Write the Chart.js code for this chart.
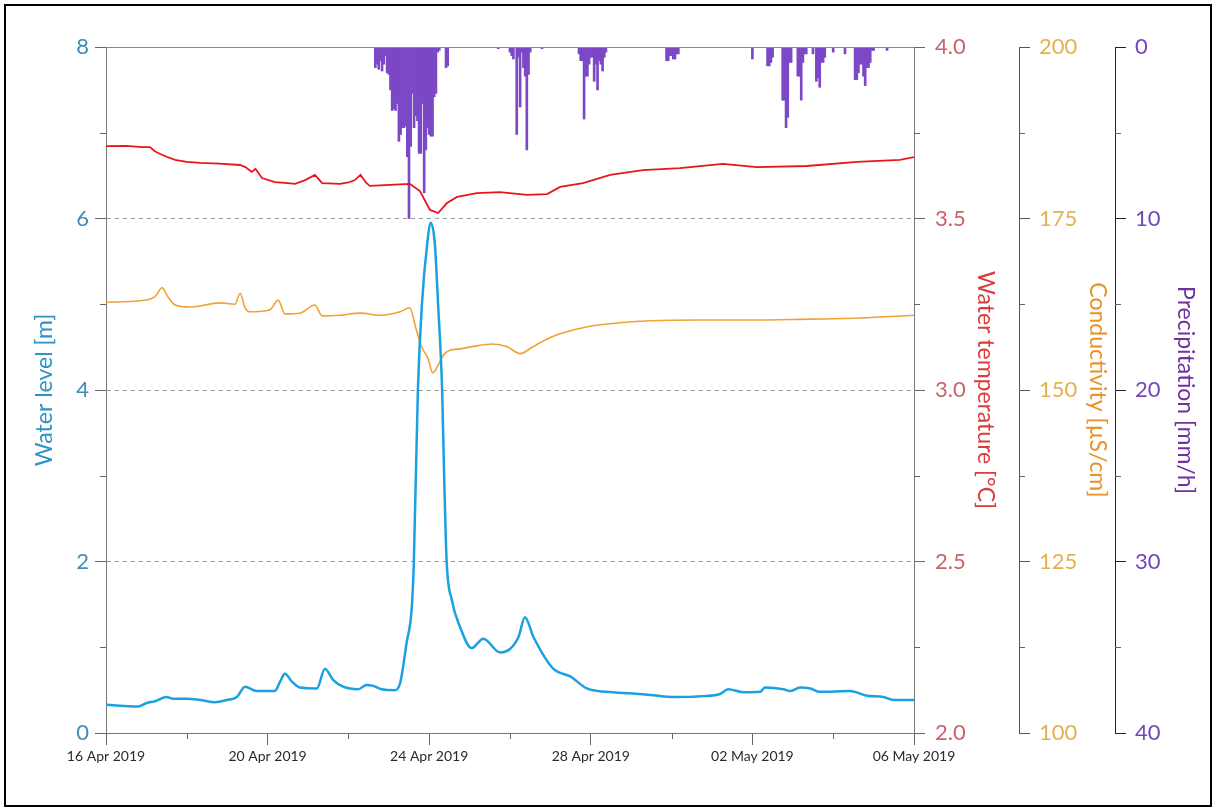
<!DOCTYPE html>
<html>
<head>
<meta charset="utf-8">
<script src="https://cdn.jsdelivr.net/npm/chart.js@4.4.1/dist/chart.umd.min.js"></script>
<style>
html,body{margin:0;padding:0;background:#fff;}
</style>
</head>
<body>
<canvas id="graph" width="1216" height="811"></canvas>
<script>
// temps en jours depuis le 16 Apr 2019 00:00
const levelDays = [0, 0.79, 1.01, 1.21, 1.5, 1.66, 2.0, 2.33, 2.7, 2.99, 3.24, 3.44, 3.73, 4.18, 4.31, 4.43, 4.6, 4.8, 5.22, 5.42, 5.62, 5.87, 6.24, 6.45, 6.61, 6.82, 7.15, 7.28, 7.44, 7.57, 7.62, 7.72, 7.82, 7.95, 8.04, 8.14, 8.22, 8.32, 8.37, 8.43, 8.56, 8.76, 9.05, 9.34, 9.75, 10.0, 10.21, 10.37, 10.58, 11.07, 11.49, 11.9, 12.39, 13.05, 13.55, 14.04, 14.78, 15.2, 15.4, 15.78, 16.19, 16.31, 16.77, 16.93, 17.18, 17.43, 17.67, 18.42, 18.83, 19.24, 19.49, 20.0];
const levelValues = [0.33, 0.31, 0.35, 0.37, 0.42, 0.40, 0.40, 0.385, 0.36, 0.385, 0.42, 0.54, 0.49, 0.49, 0.60, 0.69, 0.60, 0.53, 0.52, 0.75, 0.62, 0.54, 0.51, 0.56, 0.55, 0.51, 0.50, 0.58, 1.05, 1.47, 2.0, 4.0, 5.0, 5.7, 5.95, 5.7, 5.0, 4.0, 3.0, 2.02, 1.55, 1.24, 0.99, 1.10, 0.94, 0.98, 1.12, 1.35, 1.12, 0.75, 0.66, 0.52, 0.48, 0.46, 0.44, 0.42, 0.43, 0.455, 0.51, 0.475, 0.48, 0.53, 0.51, 0.49, 0.53, 0.52, 0.48, 0.49, 0.435, 0.42, 0.385, 0.385];

const tempDays = [0, 0.5, 0.9, 1.09, 1.2, 1.34, 1.5, 1.71, 2.0, 2.33, 2.8, 3.32, 3.45, 3.61, 3.7, 3.86, 4.18, 4.5, 4.68, 4.93, 5.17, 5.35, 5.79, 6.0, 6.16, 6.3, 6.45, 6.53, 7.03, 7.52, 7.77, 8.02, 8.22, 8.44, 8.69, 9.18, 9.75, 10.42, 10.92, 11.24, 11.81, 12.48, 13.29, 14.21, 15.27, 16.11, 17.35, 18.59, 19.65, 20.0];
const tempValues = [3.711, 3.712, 3.708, 3.708, 3.697, 3.688, 3.680, 3.671, 3.665, 3.662, 3.660, 3.656, 3.650, 3.636, 3.645, 3.618, 3.606, 3.603, 3.601, 3.612, 3.627, 3.603, 3.601, 3.605, 3.612, 3.627, 3.603, 3.595, 3.598, 3.601, 3.580, 3.525, 3.516, 3.545, 3.563, 3.574, 3.577, 3.569, 3.571, 3.592, 3.603, 3.627, 3.641, 3.647, 3.659, 3.650, 3.653, 3.665, 3.671, 3.679];

const condDays = [0, 0.84, 1.21, 1.39, 1.53, 1.71, 2.08, 2.82, 3.19, 3.32, 3.44, 3.56, 4.06, 4.26, 4.43, 4.8, 5.17, 5.35, 5.79, 6.29, 6.78, 7.28, 7.52, 7.67, 7.82, 7.97, 8.09, 8.22, 8.34, 8.51, 8.76, 9.13, 9.58, 9.93, 10.25, 10.57, 10.87, 11.24, 11.98, 12.72, 13.47, 14.7, 15.94, 17.18, 18.66, 20.0];
const condValues = [162.8, 163.0, 163.6, 164.9, 163.6, 162.4, 162.1, 162.7, 162.5, 164.1, 162.0, 161.4, 161.7, 163.1, 161.1, 161.2, 162.4, 160.8, 160.9, 161.2, 160.9, 161.4, 162.0, 159.0, 156.2, 154.6, 152.5, 153.6, 155.0, 155.8, 156.0, 156.4, 156.7, 156.3, 155.3, 156.3, 157.3, 158.2, 159.3, 159.8, 160.1, 160.2, 160.2, 160.3, 160.5, 160.9];

// pluie horaire, heures depuis le 16 Apr 2019 00:00
const rainHours = [160, 161, 162, 163, 164, 165, 166, 167, 168, 169, 170, 171, 172, 173, 174, 175, 176, 177, 178, 179, 180, 181, 182, 183, 184, 185, 186, 187, 188, 189, 190, 191, 192, 193, 194, 195, 196, 197, 198, 202, 203,
  233, 240, 241, 242, 244, 245, 246, 247, 248, 249, 250, 251, 252, 259,
  281, 282, 283, 284, 285, 286, 287, 288, 289, 290, 291, 292, 293, 294, 295, 296, 297,
  333, 334, 335, 336, 337, 338, 339, 340,
  384, 393, 394, 395, 396, 402, 403, 404, 405, 406, 407, 411, 412, 413, 414, 415, 416, 420, 422, 423, 424, 425, 426, 427, 432, 439,
  445, 446, 447, 448, 449, 450, 451, 452, 453, 454, 455, 456, 464];
const rainValues = [1.2, 1.0, 1.3, 0.8, 1.4, 1.0, 0.5, 1.5, 1.6, 2.5, 3.7, 3.6, 3.7, 3.3, 5.5, 5.1, 4.7, 4.7, 4.6, 6.4, 10.0, 5.8, 2.7, 4.7, 4.0, 4.3, 6.2, 6.2, 3.3, 8.5, 6.0, 4.7, 5.1, 5.2, 5.2, 2.9, 2.7, 0.3, 0.2, 1.2, 1.1,
  0.1, 0.3, 0.5, 0.7, 5.1, 0.6, 3.5, 0.3, 1.2, 1.7, 6.0, 1.6, 0.3, 0.1,
  0.4, 0.8, 0.8, 4.2, 1.7, 1.7, 1.0, 0.6, 0.6, 2.0, 1.0, 2.5, 0.8, 1.0, 1.4, 0.6, 0.3,
  0.8, 0.8, 0.5, 0.5, 0.7, 0.7, 0.4, 0.4,
  0.7, 1.1, 1.1, 0.9, 0.6, 3.1, 3.1, 4.7, 4.1, 0.9, 0.9, 1.7, 1.7, 3.1, 0.9, 0.4, 0.4, 0.4, 2.0, 1.8, 2.35, 0.9, 0.9, 0.6, 0.3, 0.4,
  1.9, 1.9, 1.5, 1.0, 1.0, 1.7, 2.25, 1.2, 1.2, 0.9, 0.2, 0.2, 0.2];

const dateLabels = ['16 Apr 2019', '20 Apr 2019', '24 Apr 2019', '28 Apr 2019', '02 May 2019', '06 May 2019'];
const xMinor = [2, 6, 10, 14, 18];
const levelMinor = [1, 3, 5, 7];
const tempMinor = [2.25, 2.75, 3.25, 3.75];
const condMinor = [112.5, 137.5, 162.5, 187.5];
const rainMinor = [5, 15, 25, 35];

function pts(xs, ys) { return xs.map((x, i) => ({x: x, y: ys[i]})); }

// cadre noir + trait du haut + petites graduations
const decor = {
  id: 'decor',
  beforeDraw(chart) {
    const ctx = chart.ctx;
    ctx.save();
    ctx.fillStyle = '#fff';
    ctx.fillRect(0, 0, chart.width, chart.height);
    ctx.restore();
  },
  afterDraw(chart) {
    const ctx = chart.ctx;
    const a = chart.chartArea;
    ctx.save();
    ctx.strokeStyle = '#000';
    ctx.lineWidth = 2;
    ctx.strokeRect(5, 5, chart.width - 10, chart.height - 10);
    ctx.strokeStyle = '#888';
    ctx.lineWidth = 1;
    ctx.beginPath();
    ctx.moveTo(a.left, Math.round(a.top) + 0.5);
    ctx.lineTo(a.right, Math.round(a.top) + 0.5);
    ctx.stroke();
    ctx.strokeStyle = '#666';
    const s = chart.scales;
    ctx.beginPath();
    xMinor.forEach(v => {
      const p = Math.round(s.x.getPixelForValue(v)) + 0.5;
      ctx.moveTo(p, s.x.top); ctx.lineTo(p, s.x.top + 6);
    });
    levelMinor.forEach(v => {
      const p = Math.round(s.y.getPixelForValue(v)) + 0.5;
      ctx.moveTo(s.y.right, p); ctx.lineTo(s.y.right - 6, p);
    });
    [[s.yT, tempMinor], [s.yC, condMinor], [s.yP, rainMinor]].forEach(([sc, vals]) => {
      vals.forEach(v => {
        const p = Math.round(sc.getPixelForValue(v)) + 0.5;
        ctx.moveTo(sc.left, p); ctx.lineTo(sc.left + 6, p);
      });
    });
    ctx.stroke();
    ctx.restore();
  }
};

Chart.defaults.font.family = "Lato, 'Open Sans', sans-serif";

const graph = document.getElementById('graph');

var graphe = new Chart(graph, {
  type: 'line',
  data: {
    datasets: [
      {
        label: 'Water level',
        data: pts(levelDays, levelValues),
        yAxisID: 'y',
        borderColor: '#1ba1e2',
        borderWidth: 2.5,
        pointRadius: 0,
        cubicInterpolationMode: 'monotone'
      },
      {
        label: 'Water temperature',
        data: pts(tempDays, tempValues),
        yAxisID: 'yT',
        borderColor: '#e8161c',
        borderWidth: 1.8,
        pointRadius: 0
      },
      {
        label: 'Conductivity',
        data: pts(condDays, condValues),
        yAxisID: 'yC',
        borderColor: '#f0a235',
        borderWidth: 1.6,
        pointRadius: 0,
        cubicInterpolationMode: 'monotone'
      },
      {
        type: 'bar',
        label: 'Precipitation',
        data: pts(rainHours.map(h => h / 24), rainValues),
        yAxisID: 'yP',
        backgroundColor: '#7b48c6',
        borderWidth: 0,
        barThickness: 2
      }
    ]
  },
  options: {
    responsive: false,
    animation: false,
    layout: {
      padding: {left: 10, right: 11, top: 47, bottom: 28}
    },
    plugins: {
      legend: {display: false},
      tooltip: {enabled: false}
    },
    scales: {
      x: {
        type: 'linear',
        min: 0,
        max: 20,
        offset: false,
        grid: {offset: false, drawOnChartArea: false, tickLength: 12, color: '#666'},
        border: {color: '#777'},
        ticks: {
          stepSize: 4,
          autoSkip: false,
          maxRotation: 0,
          padding: 3,
          color: '#2a2a2a',
          font: {size: 14},
          callback: v => dateLabels[v / 4]
        },
        afterFit: s => { s.height = 50; }
      },
      y: {
        position: 'left',
        min: 0,
        max: 8,
        ticks: {stepSize: 2, color: '#3f8fb3', font: {size: 22}, padding: 6},
        grid: {
          color: c => (c.tick && [2, 4, 6].includes(c.tick.value)) ? '#9a9a9a' : 'rgba(0,0,0,0)',
          tickColor: '#666',
          tickLength: 11
        },
        border: {color: '#777', dash: [4, 4]},
        title: {display: true, text: 'Water level [m]', color: '#2d93c9', font: {size: 23}, padding: {top: 21, bottom: 0}},
        afterFit: s => { s.width = 96; }
      },
      yT: {
        position: 'right',
        min: 2,
        max: 4,
        ticks: {stepSize: 0.5, color: '#c9646b', font: {size: 22}, padding: 10, callback: v => v.toFixed(1)},
        grid: {drawOnChartArea: false, tickLength: 11, color: '#666'},
        border: {color: '#777'},
        title: {display: true, text: 'Water temperature [°C]', color: '#dc3b3b', font: {size: 23}, padding: {top: 20, bottom: 0}},
        afterFit: s => { s.width = 105; }
      },
      yC: {
        position: 'right',
        min: 100,
        max: 200,
        ticks: {stepSize: 25, color: '#e3b24f', font: {size: 22}, padding: 9},
        grid: {drawOnChartArea: false, tickLength: 11, color: '#555'},
        border: {color: '#555'},
        title: {display: true, text: 'Conductivity [µS/cm]', color: '#e8932a', font: {size: 23}, padding: {top: 4, bottom: 0}},
        afterFit: s => { s.width = 96; }
      },
      yP: {
        position: 'right',
        min: 0,
        max: 40,
        reverse: true,
        ticks: {stepSize: 10, color: '#7446bd', font: {size: 22}, padding: 9},
        grid: {drawOnChartArea: false, tickLength: 11, color: '#222'},
        border: {color: '#222'},
        title: {display: true, text: 'Precipitation [mm/h]', color: '#7030a0', font: {size: 23}, padding: {top: 6, bottom: 0}},
        afterFit: s => { s.width = 90; }
      }
    }
  },
  plugins: [decor]
});
</script>
</body>
</html>
